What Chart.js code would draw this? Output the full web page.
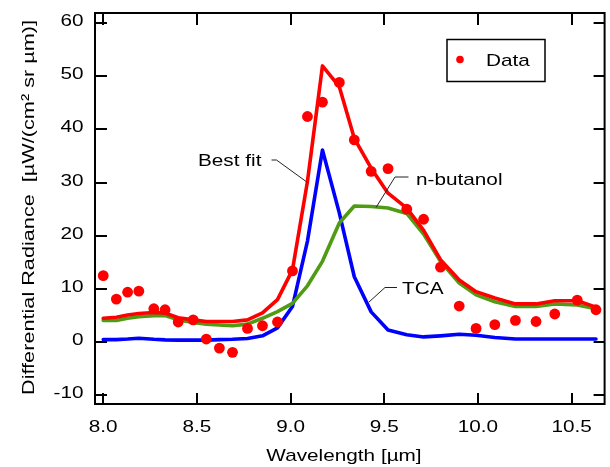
<!DOCTYPE html>
<html><head><meta charset="utf-8">
<script src="https://cdn.jsdelivr.net/npm/chart.js@4"></script>
<style>html,body{margin:0;padding:0;background:#fff}canvas{display:block}</style>
</head><body>
<canvas id="c" width="610" height="467"></canvas>
<script>
// ---- data ----
const wavelength = [8.00, 8.07, 8.13, 8.19, 8.27, 8.33, 8.40, 8.48, 8.55, 8.62,
                    8.69, 8.77, 8.85, 8.93, 9.01, 9.09, 9.17, 9.26, 9.34, 9.43,
                    9.52, 9.62, 9.71, 9.80, 9.90, 9.99, 10.09, 10.20, 10.31, 10.41,
                    10.53, 10.63];
const dataValues = [12.5, 8.1, 9.4, 9.6, 6.3, 6.1, 3.8, 4.2, 0.6, -1.1,
                    -1.9, 2.6, 3.1, 3.8, 13.4, 42.4, 45.1, 48.8, 38.0, 32.1,
                    32.6, 25.0, 23.1, 14.1, 6.8, 2.6, 3.3, 4.1, 3.9, 5.3,
                    7.9, 6.1];
const bestFit    = [4.5, 4.7, 5.1, 5.4, 5.6, 5.5, 4.6, 4.2, 3.9, 3.9,
                    3.9, 4.2, 5.5, 8.0, 13.6, 30.2, 51.9, 48.0, 38.3, 32.7,
                    28.0, 25.2, 21.0, 15.5, 11.7, 9.5, 8.3, 7.2, 7.2, 7.8,
                    7.8, 6.6];
const nButanol   = [4.1, 4.1, 4.5, 4.8, 5.0, 5.0, 4.2, 3.7, 3.4, 3.25,
                    3.1, 3.4, 4.5, 5.75, 7.3, 10.6, 15.2, 22.4, 25.6, 25.5,
                    25.2, 24.2, 20.3, 15.2, 11.1, 8.9, 7.6, 6.7, 6.7, 7.2,
                    7.0, 6.3];
const tca        = [0.5, 0.5, 0.6, 0.75, 0.55, 0.45, 0.4, 0.4, 0.4, 0.5,
                    0.55, 0.7, 1.2, 2.7, 6.7, 19.0, 36.1, 24.3, 12.3, 5.7,
                    2.3, 1.4, 1.0, 1.2, 1.5, 1.3, 0.9, 0.6, 0.6, 0.6,
                    0.6, 0.6];
const xTicks = [8.0, 8.5, 9.0, 9.5, 10.0, 10.5];
const yTicks = [-10, 0, 10, 20, 30, 40, 50, 60];
const xTitle = 'Wavelength [µm]';
const yTitle = 'Differential Radiance  [µW/(cm² sr µm)]';
const seriesNames = ['Data', 'Best fit', 'n-butanol', 'TCA'];

const RED = '#ff0000', GREEN = '#4f9b14', BLUE = '#0000ff';
const FONT = '17px "Liberation Sans", Arial, Helvetica, sans-serif';
const SX = 1.22;

const pts = arr => wavelength.map((x, i) => ({x: x, y: arr[i]}));

function sText(ctx, text, x, y, align) {
  ctx.save();
  ctx.translate(x, y);
  ctx.scale(SX, 1);
  ctx.textAlign = align;
  ctx.textBaseline = 'alphabetic';
  ctx.fillText(text, 0, 0);
  ctx.restore();
}

const framePlugin = {
  id: 'frame',
  afterDraw(chart) {
    const ctx = chart.ctx, a = chart.chartArea;
    const xs = chart.scales.x, ys = chart.scales.y;
    ctx.save();
    ctx.strokeStyle = '#000';
    ctx.lineWidth = 2;
    ctx.strokeRect(a.left, a.top, a.right - a.left, a.bottom - a.top);
    // inward ticks
    ctx.beginPath();
    xs.ticks.forEach(t => {
      const px = Math.round(xs.getPixelForValue(t.value)) + 0.0;
      ctx.moveTo(px, a.bottom); ctx.lineTo(px, a.bottom - 11);
      ctx.moveTo(px, a.top); ctx.lineTo(px, a.top + 12);
    });
    ys.ticks.forEach(t => {
      const py = Math.round(ys.getPixelForValue(t.value));
      ctx.moveTo(a.left, py); ctx.lineTo(a.left + 12, py);
      ctx.moveTo(a.right, py); ctx.lineTo(a.right - 11, py);
    });
    ctx.stroke();

    // tick labels
    ctx.fillStyle = '#000';
    ctx.font = FONT;
    xs.ticks.forEach(t => {
      sText(ctx, t.value.toFixed(1), xs.getPixelForValue(t.value), 432, 'center');
    });
    ys.ticks.forEach(t => {
      sText(ctx, String(t.value), 83.5, ys.getPixelForValue(t.value) + 3, 'right');
    });
    // axis titles
    sText(ctx, xTitle, 344, 461, 'center');
    ctx.save();
    ctx.translate(33.5, 207.5);
    ctx.rotate(-Math.PI / 2);
    const w = ctx.measureText(yTitle).width;
    ctx.scale(375 / w, 1);
    ctx.textAlign = 'center';
    ctx.fillText(yTitle, 0, 0);
    ctx.restore();

    // annotations with leader lines
    sText(ctx, seriesNames[1], 198, 165.5, 'left');
    sText(ctx, seriesNames[2], 416, 184.5, 'left');
    sText(ctx, seriesNames[3], 402, 294, 'left');
    ctx.strokeStyle = '#222';
    ctx.lineWidth = 1;
    ctx.beginPath();
    ctx.moveTo(271.5, 160); ctx.lineTo(276.5, 160); ctx.lineTo(307.5, 182.5);
    ctx.moveTo(408.5, 177); ctx.lineTo(395, 177); ctx.lineTo(376, 207.5);
    ctx.moveTo(397, 287.5); ctx.lineTo(385, 287.5); ctx.lineTo(369, 302);
    ctx.stroke();

    // legend
    ctx.strokeStyle = '#000';
    ctx.lineWidth = 1.5;
    ctx.strokeRect(447, 39.5, 98, 42);
    ctx.fillStyle = RED;
    ctx.beginPath(); ctx.arc(460, 59.5, 3.8, 0, Math.PI * 2); ctx.fill();
    ctx.fillStyle = '#000';
    sText(ctx, seriesNames[0], 486, 66, 'left');
    ctx.restore();
  }
};

const tickSetter = arr => s => { s.ticks = arr.map(v => ({value: v})); };

new Chart(document.getElementById('c').getContext('2d'), {
  type: 'scatter',
  data: {
    datasets: [
      {label: seriesNames[0], data: pts(dataValues), backgroundColor: RED, borderColor: RED,
       pointRadius: 5.4, pointBorderWidth: 0, showLine: false},
      {label: seriesNames[1], data: pts(bestFit), borderColor: RED, backgroundColor: RED,
       borderWidth: 3.6, pointRadius: 0, showLine: true, tension: 0},
      {label: seriesNames[2], data: pts(nButanol), borderColor: GREEN, backgroundColor: GREEN,
       borderWidth: 3.6, pointRadius: 0, showLine: true, tension: 0},
      {label: seriesNames[3], data: pts(tca), borderColor: BLUE, backgroundColor: BLUE,
       borderWidth: 3.6, pointRadius: 0, showLine: true, tension: 0}
    ]
  },
  options: {
    responsive: false,
    animation: false,
    devicePixelRatio: 1,
    elements: {line: {borderJoinStyle: 'round', borderCapStyle: 'round'}},
    layout: {padding: {left: 0, right: 1, top: 13, bottom: 0}},
    plugins: {legend: {display: false}, tooltip: {enabled: false}},
    scales: {
      x: {type: 'linear', min: 7.956, max: 10.676,
          ticks: {display: false}, grid: {display: false, drawTicks: false}, border: {display: false},
          afterBuildTicks: tickSetter(xTicks), afterFit: s => { s.height = 63; }},
      y: {type: 'linear', min: -11.6, max: 61.84,
          ticks: {display: false}, grid: {display: false, drawTicks: false}, border: {display: false},
          afterBuildTicks: tickSetter(yTicks), afterFit: s => { s.width = 95; }}
    }
  },
  plugins: [framePlugin]
});
</script>
</body></html>
